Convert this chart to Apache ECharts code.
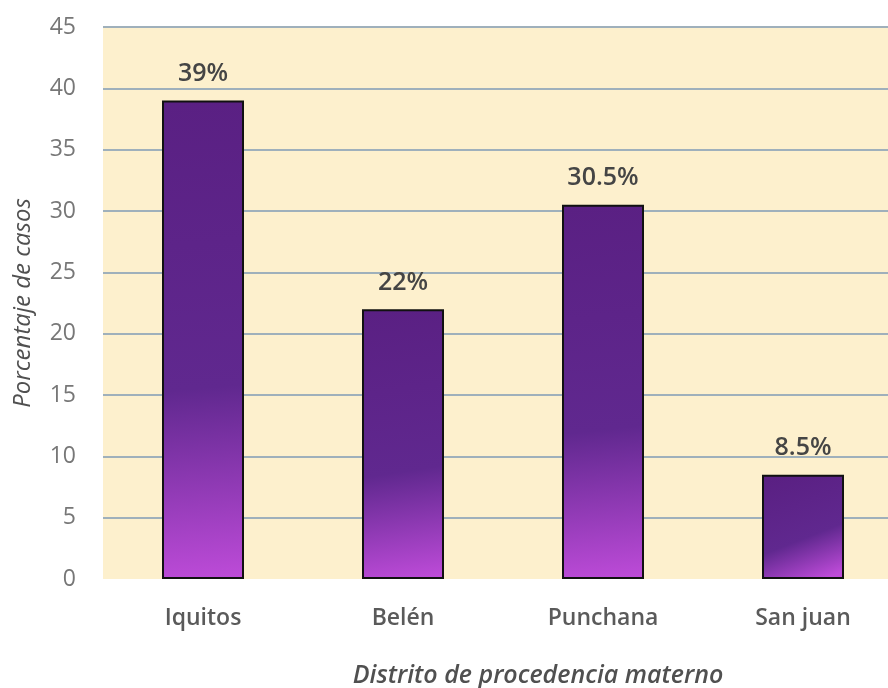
<!DOCTYPE html>
<html>
<head>
<meta charset="utf-8">
<style>
  html, body { margin: 0; padding: 0; background: #ffffff; }
  #chart { width: 888px; height: 688px; }
</style>
<script src="https://cdn.jsdelivr.net/npm/echarts@6/dist/echarts.min.js"></script>
</head>
<body>
<div id="chart"></div>
<script>
// Porcentaje de casos por distrito de procedencia materno
const districts = ['Iquitos', 'Belén', 'Punchana', 'San juan'];
const percentages = [39, 22, 30.5, 8.5];
const pctLabels = ['39%', '22%', '30.5%', '8.5%'];
const yTicks = { min: 0, max: 45, step: 5 };

const chart = echarts.init(document.getElementById('chart'), null, { renderer: 'canvas' });

// dark purple at the top fading into magenta near the base
const barFill = new echarts.graphic.LinearGradient(0.25, 0, 0.75, 1, [
  { offset: 0, color: '#5a2083' },
  { offset: 0.6, color: '#60288f' },
  { offset: 1, color: '#bd4bd8' }
]);

// grid lines at every tick except the baseline
const gridLineColors = [];
for (let v = yTicks.min; v <= yTicks.max; v += yTicks.step) {
  gridLineColors.push(v === 0 ? 'rgba(0,0,0,0)' : '#9fb0bb');
}

chart.setOption({
  backgroundColor: '#ffffff',
  animation: false,
  textStyle: { fontFamily: 'Open Sans' },
  grid: {
    left: 103, top: 27, width: 800, height: 552,
    outerBoundsMode: 'none', containLabel: false,
    backgroundColor: '#fdf0cd', show: true, borderWidth: 0
  },
  xAxis: {
    type: 'category',
    data: districts,
    name: 'Distrito de procedencia materno',
    nameLocation: 'middle',
    nameGap: 84,
    nameTextStyle: { fontStyle: 'italic', fontSize: 25, fontWeight: 600, color: '#505050', padding: [0, 0, 0, 70] },
    axisLine: { show: false },
    axisTick: { show: false },
    axisLabel: { fontSize: 23, fontWeight: 600, color: '#5a5a5a', margin: 28 }
  },
  yAxis: {
    type: 'value',
    min: yTicks.min,
    max: yTicks.max,
    interval: yTicks.step,
    name: 'Porcentaje de casos',
    nameLocation: 'middle',
    nameGap: 68,
    nameTextStyle: { fontStyle: 'italic', fontSize: 24, color: '#505050' },
    axisLine: { show: false },
    axisTick: { show: false },
    axisLabel: { fontSize: 23, color: '#777777', margin: 27 },
    splitLine: { lineStyle: { color: gridLineColors, width: 2 } }
  },
  series: [{
    type: 'bar',
    data: percentages,
    barWidth: 82,
    itemStyle: { color: barFill, borderColor: '#111111', borderWidth: 2 },
    label: {
      show: true,
      position: 'top',
      distance: 14,
      fontSize: 25,
      fontWeight: 600,
      color: '#454545',
      formatter: (p) => pctLabels[p.dataIndex]
    }
  }]
});
</script>
</body>
</html>
